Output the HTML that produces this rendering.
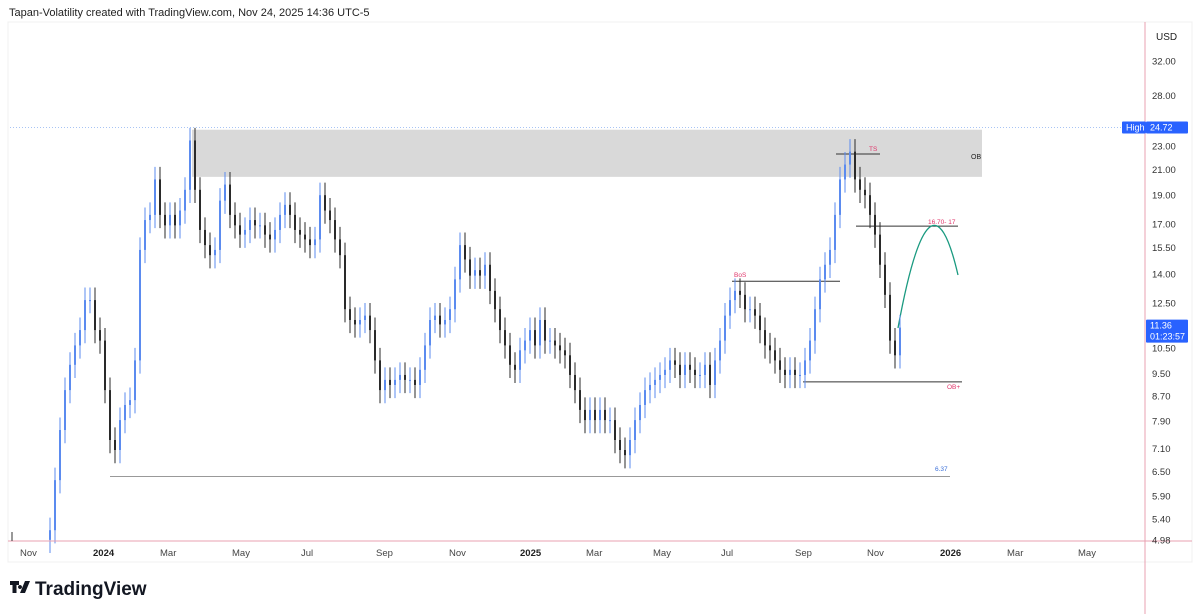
<!DOCTYPE html>
<html><head><meta charset="utf-8"><style>
body{margin:0;background:#fff;width:1200px;height:614px;overflow:hidden;font-family:"Liberation Sans",sans-serif}
svg{position:absolute;left:0;top:0}
</style></head><body>
<svg id="chart" width="1200" height="614" viewBox="0 0 1200 614">
<text x="9" y="16" font-size="11" fill="#222">Tapan-Volatility created with TradingView.com, Nov 24, 2025 14:36 UTC-5</text>
<rect x="8" y="22" width="1184" height="540" fill="none" stroke="#f0f0f0"/>
<g id="ann"></g>
<g id="candles"></g>
<g id="axes"></g>
<g>
<path d="M10 581h9v4h-2.5v8h-4v-8H10z M20 585a2 2 0 1 0 0.01 0z M25 581h5l-5 12h-5z" fill="#131722"/>
<text x="35" y="595" font-size="19" font-weight="bold" fill="#131722">TradingView</text>
</g>
</svg>
<script>
const closes=[5.17,6.28,7.63,8.91,9.83,10.6,11.25,12.64,12.64,11.25,10.8,8.91,7.34,7.06,7.93,8.41,8.57,10.0,15.36,17.25,17.6,20.2,17.6,16.9,17.6,16.9,17.9,19.4,23.5,19.4,16.6,15.65,15.05,15.36,18.6,19.8,17.6,16.9,16.3,16.6,17.25,16.9,16.9,16.3,16.0,16.6,17.6,18.3,17.6,16.6,16.3,16.0,15.65,16.0,19.0,17.9,17.25,16.0,15.05,12.2,11.7,11.5,11.7,11.9,11.25,10.0,8.91,9.27,9.09,9.27,9.45,9.27,9.27,9.09,9.64,10.6,11.7,11.9,11.5,11.7,12.2,13.7,15.65,14.8,13.9,14.2,13.9,14.5,13.1,12.2,11.25,10.6,9.83,9.64,10.4,10.8,11.25,10.6,11.7,10.8,10.8,10.6,10.4,10.2,9.45,8.91,8.25,7.93,8.25,7.93,8.25,7.93,7.93,7.34,7.06,6.92,7.34,7.93,8.41,8.91,9.09,9.27,9.45,9.64,10.0,9.83,9.45,9.83,9.64,9.45,9.45,9.83,9.09,10.0,10.8,11.9,12.64,13.1,12.9,12.2,12.2,11.9,11.25,10.6,10.4,10.0,9.64,9.45,9.64,9.45,9.45,10.0,10.8,12.2,13.7,14.5,15.36,17.6,20.2,21.4,22.5,20.2,19.4,19.0,17.6,16.3,14.5,12.9,10.8,10.2,11.36];
const startPrice=4.98;
const priceTicks=[32,28,23,21,19,17,15.5,14,12.5,10.5,9.5,8.7,7.9,7.1,6.5,5.9,5.4,4.98];
const timeLabels=["Nov","2024","Mar","May","Jul","Sep","Nov","2025","Mar","May","Jul","Sep","Nov","2026","Mar","May"];
const timeLabelX=[20,93,160,232,301,376,449,520,586,653,721,795,867,940,1007,1078];
const NS="http://www.w3.org/2000/svg";
function y(p){return 61+(Math.log(32)-Math.log(p))*257.4;}
function x(i){return 50+i*5;}
function mk(t,a,parent){const e=document.createElementNS(NS,t);for(const k in a)e.setAttribute(k,a[k]);parent.appendChild(e);return e;}
const cg=document.getElementById('candles');
closes.forEach((c,i)=>{
 const o=i?closes[i-1]:startPrice;
 const up=c>=o;const col=up?'#5b8bef':'#2a2a2a';
 const hi=Math.max(o,c)*1.05,lo=Math.min(o,c)*0.95;
 const g=mk('g',{},cg);
 
 
 mk('line',{x1:x(i),x2:x(i),y1:y(hi),y2:y(lo),stroke:col,'stroke-width':1},g);
 mk('rect',{x:x(i)-1,y:Math.min(y(o),y(c)),width:2,height:Math.max(1,Math.abs(y(o)-y(c))),fill:col},g);
});
const ag=document.getElementById('axes');
mk('line',{x1:1145,x2:1145,y1:22,y2:614,stroke:'#e8a0b0','stroke-width':1},ag);
mk('line',{x1:8,x2:1192,y1:541,y2:541,stroke:'#e8a0b0','stroke-width':1},ag);
mk('line',{x1:12,x2:12,y1:532,y2:541,stroke:'#333','stroke-width':1},ag);
let t=mk('text',{x:1156,y:40,'font-size':10,fill:'#222'},ag);t.textContent='USD';

priceTicks.forEach(p=>{const e=mk('text',{x:1152,y:y(p)+3.5,'font-size':9.5,fill:'#333'},ag);e.textContent=p.toFixed(2);
 
 });
timeLabels.forEach((l,i)=>{const bold=/^\d/.test(l);const e=mk('text',{x:timeLabelX[i],y:556,'font-size':9.5,fill:bold?'#222':'#444','font-weight':bold?'bold':'normal','text-anchor':'start'},ag);e.textContent=l;
 
 });
const an=document.getElementById('ann');
const highP=24.72,lowLine=6.37,bosP=13.6,tsP=22.3,tgtP=16.85,obP=9.2,obTop=24.5,obBot=20.4;
let r=mk('rect',{x:192,y:y(obTop),width:790,height:y(obBot)-y(obTop),fill:'#d9d9d9'},an);

t=mk('text',{x:971,y:159,'font-size':7,fill:'#222'},an);t.textContent='OB';

let l=mk('line',{x1:10,x2:1122,y1:y(highP),y2:y(highP),stroke:'#a8c4f4','stroke-dasharray':'1,2'},an);

function hline(p,x1,x2,name){const e=mk('line',{x1:x1,x2:x2,y1:y(p),y2:y(p),stroke:name==='support-line-6-37'?'#999':'#333','stroke-width':1},an);
 }
function lab(s,xx,yy,col,name){const e=mk('text',{x:xx,y:yy,'font-size':6.5,fill:col},an);e.textContent=s;
 }
hline(lowLine,110,950,'support-line-6-37');lab('6.37',935,471,'#3a6fd8','support-label');
hline(bosP,732,840,'bos-line');lab('BoS',734,277,'#e0356a','bos-label');
hline(tsP,836,880,'ts-line');lab('TS',869,151,'#e0356a','ts-label');
hline(tgtP,856,958,'target-line');lab('16.70- 17',928,224,'#e0356a','target-label');
hline(obP,803,962,'ob-plus-line');lab('OB+',947,389,'#e0356a','ob-plus-label');
let pth=mk('path',{d:'M898,328 Q930,154 958,275',fill:'none',stroke:'#1a9a80','stroke-width':1.3},an);

function tag(xx,w,yy,h,s,name){const g=mk('g',{},ag);
 mk('rect',{x:xx,y:yy,width:w,height:h,fill:'#2962ff',rx:1},g);
 s.forEach((q,k)=>{const e=mk('text',{x:xx+4,y:yy+9+k*11,'font-size':9,fill:'#fff'},g);e.textContent=q;});}
tag(1122,24,y(highP)-6,12,['High'],'high-tag');
tag(1146,42,y(highP)-6,12,['24.72'],'high-price-tag');
tag(1146,42,y(11.36)-8,23,['11.36','01:23:57'],'last-price-tag');
</script>
</body></html>
